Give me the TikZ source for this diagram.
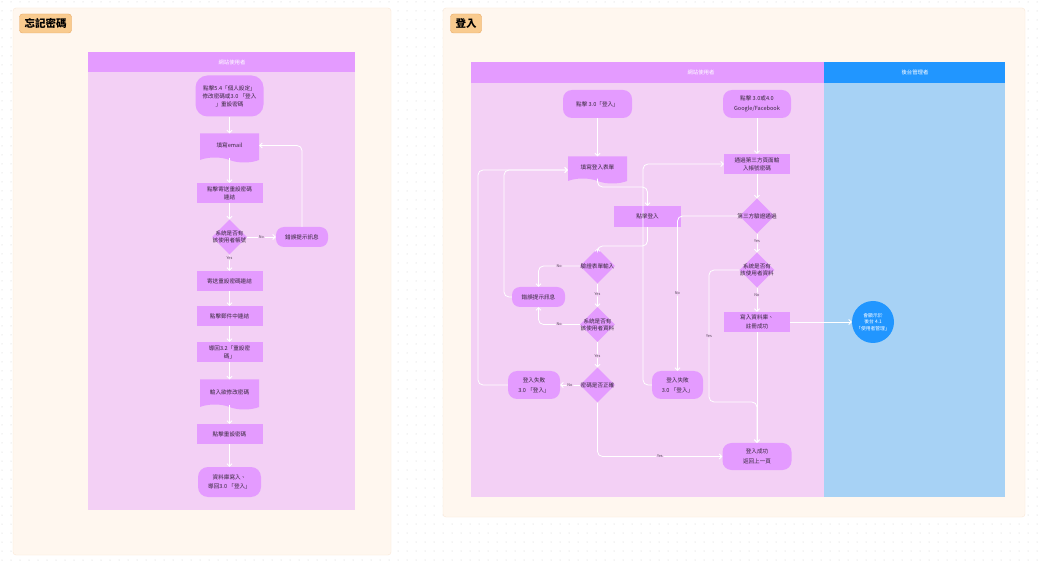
\documentclass[tikz,border=0pt]{standalone}
\usepackage{fontspec}
\setmainfont{Noto Sans CJK TC}
\usepackage{tikz}
\usetikzlibrary{arrows.meta,positioning,calc,shapes.geometric,shapes.symbols}
\definecolor{lanepink}{RGB}{243,208,245}
\definecolor{nodepurple}{RGB}{228,155,255}
\definecolor{headblue}{RGB}{33,150,255}
\definecolor{laneblue}{RGB}{167,210,245}
\definecolor{panelcream}{RGB}{255,247,239}
\definecolor{panelline}{RGB}{250,232,215}
\definecolor{badgeorange}{RGB}{249,203,143}
\definecolor{badgeline}{RGB}{232,168,98}
\definecolor{dotgray}{RGB}{205,205,205}
\definecolor{textdark}{RGB}{55,40,60}

\begin{document}
\begin{tikzpicture}[x=1pt,y=-1pt,
  badge/.style={draw=badgeline,fill=badgeorange,rounded corners=3pt,inner xsep=5pt,minimum height=19pt,font=\fontsize{10.5}{12}\selectfont\bfseries},
  headtext/.style={text=white,font=\fontsize{5.4}{6}\selectfont},
  procbox/.style={fill=nodepurple,minimum width=66pt,minimum height=20pt,inner sep=1pt,align=center,text=textdark,font=\fontsize{5.6}{8}\selectfont},
  roundbox/.style={procbox,rounded corners=8pt},
  docbox/.style={procbox,shape=tape,tape bend top=none,tape bend bottom=out and in,tape bend height=5pt,minimum width=59pt,minimum height=29pt},
  decision/.style={diamond,fill=nodepurple,minimum width=35pt,minimum height=35pt,inner sep=0pt},
  dtext/.style={align=center,text=textdark,font=\fontsize{5.6}{6.8}\selectfont},
  adminnode/.style={circle,fill=headblue,minimum size=42pt,inner sep=0pt,align=center,text=white,font=\fontsize{4.8}{6.5}\selectfont},
  conn/.style={draw=white,line width=0.8pt,rounded corners=5pt,-{Straight Barb[length=2.5pt,width=5pt]}},
  yn/.style={fill=lanepink,inner sep=0.8pt,text=textdark!85,font=\fontsize{3.8}{4}\selectfont}]
\useasboundingbox (0,0) rectangle (1045,561);
\fill[white] (0,0) rectangle (1045,561);
\foreach \j in {0,...,62}{\draw[dotgray,line width=1pt,line cap=round,dash pattern=on 0pt off 9pt] (2,\j*9+2) -- (1045,\j*9+2);}
\draw[panelline,fill=panelcream,rounded corners=3pt] (13,8) rectangle (391,555);
\draw[panelline,fill=panelcream,rounded corners=3pt] (443,8) rectangle (1025,517);
\node[badge] (forgot) at (45.5,23.5) {忘記密碼};
\node[badge] (login) at (466,23.5) {登入};
\fill[lanepink] (88,52) rectangle (355,510);
\fill[nodepurple] (88,52) rectangle (355,72);
\node[headtext] (laneuserA) at (232,62) {網站使用者};
\fill[lanepink] (471,62) rectangle (824,497);
\fill[nodepurple] (471,62) rectangle (824,83);
\fill[laneblue] (824,62) rectangle (1005,497);
\fill[headblue] (824,62) rectangle (1005,83);
\node[headtext] (laneuserB) at (701,72.5) {網站使用者};
\node[headtext] (laneadmin) at (915,72.5) {後台管理者};

\node[roundbox,minimum width=68pt,minimum height=41pt,rounded corners=12pt] (fstart) at (229.5,96) {點擊5.4「個人設定」\\修改密碼或3.0 「登入\\」重設密碼};
\node[docbox] (femail) at (229.5,145.5) {填寫email};
\node[procbox] (fsend) at (229.5,193) {點擊寄送重設密碼\\連結};
\node[decision,label={[dtext]center:系統是否有\\該使用者帳號}] (fcheck) at (229.5,237) {};
\node[roundbox,minimum width=52pt] (ferror) at (302,237) {錯誤提示訊息};
\node[procbox] (fmail) at (229.5,281) {寄送重設密碼連結};
\node[procbox] (fclick) at (229.5,316) {點擊郵件中連結};
\node[procbox] (fback) at (229.5,352) {導回3.2「重設密\\碼」};
\node[docbox,minimum height=30pt] (finput) at (229.5,392) {輸入欲修改密碼};
\node[procbox] (freset) at (229.5,434) {點擊重設密碼};
\node[roundbox,minimum width=63pt,minimum height=30pt,rounded corners=10pt,font=\fontsize{5.6}{9}\selectfont] (fend) at (229.5,482) {資料庫寫入、\\導回3.0 「登入」};
\foreach \a/\b in {fstart/femail,femail/fsend,fsend/fcheck,fmail/fclick,fclick/fback,fback/finput,finput/freset,freset/fend}{\draw[conn] (\a.south) -- (\b.north);}
\draw[conn] (fcheck.east) -- node[yn]{No} (ferror.west);
\draw[conn] (fcheck.south) -- node[yn,pos=0.2]{Yes} (fmail.north);
\draw[conn] (ferror.north) |- (femail.east);

\node[roundbox,minimum width=69pt,minimum height=28pt,rounded corners=9pt] (lclick) at (597.5,104) {點擊 3.0「登入」};
\node[roundbox,minimum width=68pt,minimum height=28pt,rounded corners=9pt,font=\fontsize{5.6}{10}\selectfont] (lsocial) at (757,104) {點擊 3.0或4.0\\Google/Facebook};
\node[docbox,minimum height=27pt] (lform) at (597.5,167.5) {填寫登入表單};
\node[procbox] (lthird) at (757,164) {通過第三方頁面輸\\入帳號密碼};
\node[procbox,minimum width=67pt,minimum height=21pt] (lsubmit) at (647.5,216.5) {點擊登入};
\node[decision,label={[dtext]center:第三方驗證通過}] (lthirdok) at (757,216) {};
\node[decision,label={[dtext]center:驗證表單輸入}] (lvalid) at (597.5,266) {};
\node[roundbox,minimum width=53pt] (lerror) at (538.5,297) {錯誤提示訊息};
\node[decision,label={[dtext]center:系統是否有\\該使用者資料}] (luser) at (597.5,324.5) {};
\node[decision,label={[dtext]center:密碼是否正確}] (lpass) at (597.5,385) {};
\node[roundbox,minimum width=52pt,minimum height=28pt,rounded corners=9pt,font=\fontsize{5.6}{10}\selectfont] (lfailA) at (534,385) {登入失敗\\3.0 「登入」};
\node[roundbox,minimum width=51pt,minimum height=28pt,rounded corners=9pt,font=\fontsize{5.6}{10}\selectfont] (lfailB) at (677.5,385) {登入失敗\\3.0 「登入」};
\node[decision,label={[dtext]center:系統是否有\\該使用者資料}] (luserB) at (757,270) {};
\node[procbox,font=\fontsize{5.6}{9}\selectfont] (lregister) at (757,322) {寫入資料庫、\\註冊成功};
\node[roundbox,minimum width=69pt,minimum height=27pt,rounded corners=9pt,font=\fontsize{5.6}{10}\selectfont] (lsuccess) at (757,456.5) {登入成功\\返回上一頁};
\node[adminnode] (ladmin) at (873,322) {會顯示於\\後台 4.1\\「使用者管理」};
\coordinate (jform) at (647.5,187);
\coordinate (jsubmit) at (597.5,246);
\coordinate (jfailA) at (478,170);
\coordinate (jerror) at (504,170);
\coordinate (jfailB) at (643,164);
\coordinate (jyes) at (709,402);
\foreach \a/\b in {lclick/lform,lsocial/lthird,lthird/lthirdok}{\draw[conn] (\a.south) -- (\b.north);}
\draw[conn] (lform.south) |- (jform) -- (lsubmit.north);
\draw[conn] (lsubmit.south) |- (jsubmit) -- (lvalid.north);
\draw[conn] (lvalid.west) -| node[yn,pos=0.25]{No} (lerror.north);
\draw[conn] (lvalid.south) -- node[yn,pos=0.45]{Yes} (luser.north);
\draw[conn] (luser.west) -| node[yn,pos=0.25]{No} (lerror.south);
\draw[conn] (luser.south) -- node[yn,pos=0.55]{Yes} (lpass.north);
\draw[conn] (lpass.west) -- node[yn]{No} (lfailA.east);
\draw[conn] (lpass.south) |- node[yn,pos=0.75]{Yes} (lsuccess.west);
\draw[conn] (lfailA.west) -| (jfailA) -- (jfailA -| lform.west);
\draw[conn] (lerror.west) -| (jerror) -- (jerror -| lform.west);
\draw[conn] (lthirdok.west) -| node[yn,pos=0.75]{No} (lfailB.north);
\draw[conn] (lfailB.west) -| (jfailB) -- (lthird.west);
\draw[conn] (lthirdok.south) -- node[yn,pos=0.4]{Yes} (luserB.north);
\draw[conn] (luserB.south) -- node[yn,pos=0.3]{No} (lregister.north);
\draw[conn] (luserB.west) -| node[yn,pos=0.75]{Yes} (jyes) -| (lsuccess.north);
\draw[conn] (lregister.south) -- (lsuccess.north);
\draw[conn] (lregister.east) -- (ladmin.west);
\end{tikzpicture}
\end{document}
